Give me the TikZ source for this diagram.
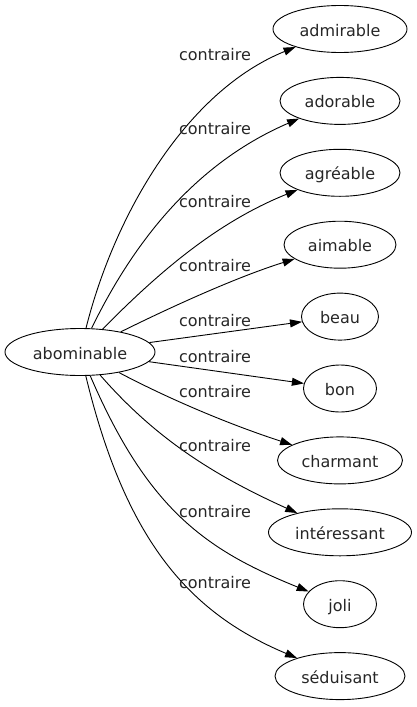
\documentclass[tikz,border=0pt]{standalone}
\usepackage{fontspec}
\setmainfont{DejaVu Sans}
\usetikzlibrary{shapes.geometric,arrows.meta}
\begin{document}
\begin{tikzpicture}[x=1pt,y=-1pt,
  word/.style={ellipse,draw,line width=0.9pt,inner sep=0pt,minimum height=47pt,
    font=\fontsize{16}{19}\selectfont,text=black!85,text height=14pt,text depth=0pt},
  lbl/.style={anchor=base,inner sep=0pt,font=\fontsize{16}{19}\selectfont,text=black!85},
  edge/.style={line width=0.9pt,-{Triangle[length=12pt,width=8pt]}}]
\useasboundingbox (0,0) rectangle (416,707);
\node[word,minimum width=150pt] (abo) at (80,352) {abominable};
\node[word,minimum width=134pt] (adm) at (340,29) {admirable};
\node[word,minimum width=120pt] (ado) at (340,100.9) {adorable};
\node[word,minimum width=120pt] (agr) at (340,172.8) {agréable};
\node[word,minimum width=112pt] (aim) at (340,244.7) {aimable};
\node[word,minimum width=77pt] (bea) at (340,316.6) {beau};
\node[word,minimum width=73pt] (bon) at (340,388.5) {bon};
\node[word,minimum width=125pt] (cha) at (340,460.4) {charmant};
\node[word,minimum width=143pt] (int) at (340,532.3) {intéressant};
\node[word,minimum width=73pt] (jol) at (340,604.2) {joli};
\node[word,minimum width=130pt] (sed) at (340,676.1) {séduisant};
\draw[edge] (abo) .. controls (115,213) and (187,91) .. (adm);
\draw[edge] (abo) .. controls (139,231) and (203,160) .. (ado);
\draw[edge] (abo) .. controls (156,275) and (215,223) .. (agr);
\draw[edge] (abo) .. controls (173,306) and (237,277) .. (aim);
\draw[edge] (abo) -- (bea);
\draw[edge] (abo) -- (bon);
\draw[edge] (abo) .. controls (171,400) and (231,425) .. (cha);
\draw[edge] (abo) .. controls (155,438) and (213,475) .. (int);
\draw[edge] (abo) .. controls (148,510) and (206,550) .. (jol);
\draw[edge] (abo) .. controls (126,542) and (190,613) .. (sed);
\node[lbl] (l1) at (215,60) {contraire};
\node[lbl] (l2) at (215,134) {contraire};
\node[lbl] (l3) at (215,207) {contraire};
\node[lbl] (l4) at (215,271) {contraire};
\node[lbl] (l5) at (215,326) {contraire};
\node[lbl] (l6) at (215,362) {contraire};
\node[lbl] (l7) at (215,397) {contraire};
\node[lbl] (l8) at (215,451) {contraire};
\node[lbl] (l9) at (215,517) {contraire};
\node[lbl] (l10) at (215,588) {contraire};
\end{tikzpicture}
\end{document}
